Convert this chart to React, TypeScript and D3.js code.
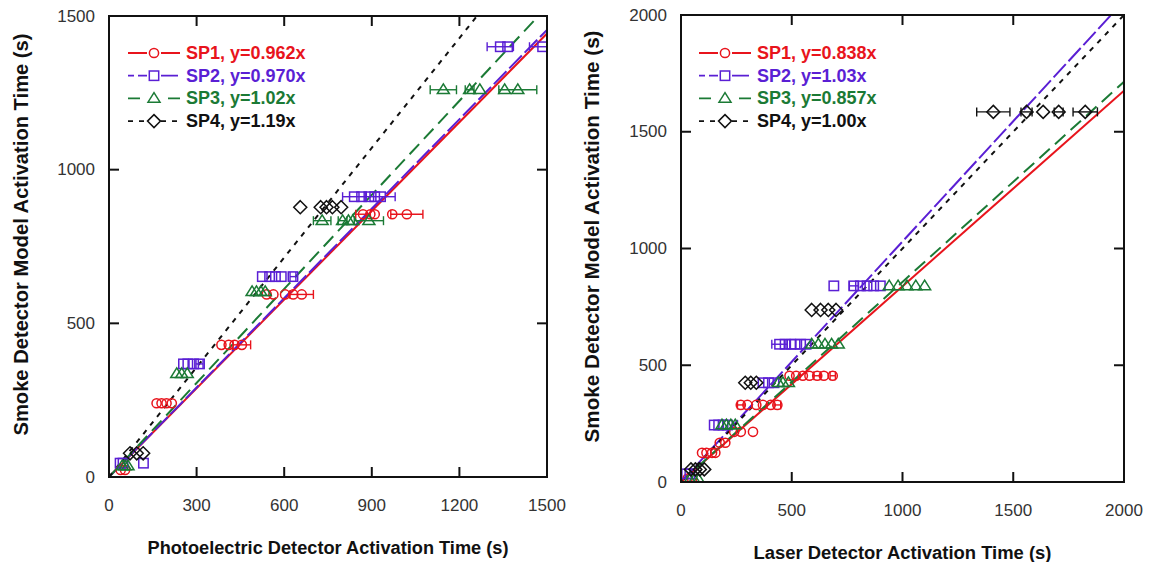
import React from 'react';
import * as d3 from 'd3';

// ---------------- data ----------------
const seriesNames = ['SP1', 'SP2', 'SP3', 'SP4'];
const seriesColors = ['#e8141c', '#5a1fd4', '#1b7a35', '#111111'];
const leftSlopes = [0.962, 0.97, 1.02, 1.19];
const leftSlopeLabels = ['0.962', '0.970', '1.02', '1.19'];
const rightSlopes = [0.838, 1.03, 0.857, 1.0];
const rightSlopeLabels = ['0.838', '1.03', '0.857', '1.00'];

const leftXTicks = [0, 300, 600, 900, 1200, 1500];
const leftYTicks = [0, 500, 1000, 1500];
const rightXTicks = [0, 500, 1000, 1500, 2000];
const rightYTicks = [0, 500, 1000, 1500, 2000];

// Left panel (photoelectric)
const lSP1X = [40, 55, 163, 180, 197, 215, 385, 410, 430, 455, 540, 563, 603, 631, 660, 870, 895, 910, 970, 1020];
const lSP1Y = [23, 23, 240, 240, 240, 240, 430, 430, 430, 430, 594, 594, 594, 594, 594, 855, 855, 855, 855, 855];
const lSP1E = [0, 0, 0, 0, 0, 0, 0, 0, 0, 30, 0, 0, 0, 0, 40, 25, 0, 0, 0, 55];

const lSP2X = [38, 48, 118, 255, 270, 290, 310, 525, 550, 570, 590, 630, 840, 865, 890, 910, 930, 1340, 1365, 1485];
const lSP2Y = [45, 45, 45, 368, 368, 368, 368, 652, 652, 652, 652, 652, 912, 912, 912, 912, 912, 1400, 1400, 1400];
const lSP2E = [0, 0, 0, 0, 0, 0, 12, 0, 0, 0, 0, 10, 40, 0, 0, 0, 50, 45, 0, 45];

const lSP3X = [45, 55, 65, 232, 249, 268, 490, 505, 520, 535, 730, 800, 820, 835, 890, 1145, 1235, 1270, 1355, 1400];
const lSP3Y = [36, 36, 36, 336, 336, 336, 603, 603, 603, 603, 834, 834, 834, 834, 834, 1260, 1260, 1260, 1260, 1260];
const lSP3E = [0, 0, 0, 0, 0, 0, 0, 0, 0, 0, 30, 15, 0, 0, 50, 45, 15, 0, 0, 65];

const lSP4X = [72, 95, 117, 655, 725, 745, 765, 795];
const lSP4Y = [77, 77, 77, 878, 878, 878, 878, 878];
const lSP4E = [0, 0, 0, 0, 0, 0, 0, 0];

// Right panel (laser)
const rSP1X = [30, 50, 95, 115, 140, 155, 175, 200, 240, 270, 325, 270, 300, 340, 370, 405, 435, 490, 520, 550, 580, 615, 645, 685];
const rSP1Y = [15, 15, 125, 125, 125, 125, 168, 168, 215, 215, 215, 330, 330, 330, 330, 330, 330, 455, 455, 455, 455, 455, 455, 455];
const rSP1E = [0, 0, 0, 0, 0, 0, 0, 0, 0, 0, 0, 15, 0, 0, 0, 0, 15, 0, 0, 0, 0, 15, 0, 12];

const rSP2X = [25, 40, 150, 170, 190, 210, 370, 395, 420, 445, 470, 495, 515, 540, 565, 690, 780, 810, 840, 870, 900];
const rSP2Y = [35, 35, 244, 244, 244, 244, 425, 425, 425, 590, 590, 590, 590, 590, 590, 840, 840, 840, 840, 840, 840];
const rSP2E = [0, 0, 0, 0, 0, 0, 0, 0, 0, 35, 0, 0, 0, 0, 0, 0, 20, 0, 0, 0, 0];

const rSP3X = [40, 60, 80, 185, 205, 225, 245, 440, 460, 485, 590, 620, 650, 680, 710, 940, 980, 1020, 1060, 1100];
const rSP3Y = [10, 10, 10, 244, 244, 244, 244, 425, 425, 425, 590, 590, 590, 590, 590, 840, 840, 840, 840, 840];
const rSP3E = [0, 0, 0, 0, 0, 0, 0, 0, 0, 0, 0, 0, 0, 0, 0, 0, 0, 0, 0, 0];

const rSP4X = [45, 65, 85, 105, 290, 315, 340, 590, 630, 665, 700, 1410, 1560, 1635, 1705, 1825];
const rSP4Y = [54, 54, 54, 54, 425, 425, 425, 737, 737, 737, 737, 1585, 1585, 1585, 1585, 1585];
const rSP4E = [0, 0, 0, 0, 0, 0, 0, 0, 0, 0, 0, 75, 25, 0, 20, 55];

// ---------------- styling / layout ----------------
const W = 1153;
const H = 562;
const dashes = [null, '18,4', '14,7', '5,6'];
const markerKinds = ['circle', 'square', 'triangle', 'diamond'];
const FONT = 'Liberation Sans, Arial, Helvetica, sans-serif';

type Pt = { x: number; y: number; e: number };

function zipPts(xs: number[], ys: number[], es: number[]): Pt[] {
  return xs.map((x, i) => ({ x, y: ys[i], e: es[i] }));
}

function Marker({ kind, cx, cy, color }: { kind: string; cx: number; cy: number; color: string }) {
  const sw = 1.5;
  if (kind === 'circle') return <circle cx={cx} cy={cy} r={4.6} fill="none" stroke={color} strokeWidth={sw} />;
  if (kind === 'square') return <rect x={cx - 4.7} y={cy - 4.7} width={9.4} height={9.4} fill="none" stroke={color} strokeWidth={sw} />;
  if (kind === 'triangle')
    return <path d={`M${cx},${cy - 5.8}L${cx + 6},${cy + 3.8}L${cx - 6},${cy + 3.8}Z`} fill="none" stroke={color} strokeWidth={sw} />;
  return <path d={`M${cx},${cy - 6.5}L${cx + 6.5},${cy}L${cx},${cy + 6.5}L${cx - 6.5},${cy}Z`} fill="none" stroke={color} strokeWidth={sw} />;
}

type PanelProps = {
  id: string;
  left: number; right: number; top: number; bottom: number;
  xMax: number; yMax: number;
  xTicks: number[]; yTicks: number[];
  xTitle: string; xTitleLen: number; yTitle: string; yTitleLen: number; yTitleX: number;
  slopes: number[]; slopeLabels: string[];
  points: Pt[][];
  legendX: number; legendY: number;
};

function Panel(p: PanelProps) {
  const x = d3.scaleLinear().domain([0, p.xMax]).range([p.left, p.right]);
  const y = d3.scaleLinear().domain([0, p.yMax]).range([p.bottom, p.top]);
  const tickLen = 10;
  const midX = (p.left + p.right) / 2;
  const midY = (p.top + p.bottom) / 2 - 12;
  return (
    <g>
      <defs>
        <clipPath id={p.id}>
          <rect x={p.left} y={p.top} width={p.right - p.left} height={p.bottom - p.top} />
        </clipPath>
      </defs>
      <g clipPath={`url(#${p.id})`}>
        {p.slopes.map((s, i) => (
          <line key={i} x1={x(0)} y1={y(0)} x2={x(p.xMax)} y2={y(s * p.xMax)}
            stroke={seriesColors[i]} strokeWidth={2}
            strokeDasharray={dashes[i] ?? undefined} />
        ))}
        {p.points.map((pts, si) => (
          <g key={si}>
            {pts.map((d, k) => (
              <g key={k}>
                {d.e > 0 && (
                  <g stroke={seriesColors[si]} strokeWidth={1.4}>
                    <line x1={x(d.x - d.e)} x2={x(d.x + d.e)} y1={y(d.y)} y2={y(d.y)} />
                    <line x1={x(d.x - d.e)} x2={x(d.x - d.e)} y1={y(d.y) - 4.5} y2={y(d.y) + 4.5} />
                    <line x1={x(d.x + d.e)} x2={x(d.x + d.e)} y1={y(d.y) - 4.5} y2={y(d.y) + 4.5} />
                  </g>
                )}
                <Marker kind={markerKinds[si]} cx={x(d.x)} cy={y(d.y)} color={seriesColors[si]} />
              </g>
            ))}
          </g>
        ))}
      </g>
      <rect x={p.left} y={p.top} width={p.right - p.left} height={p.bottom - p.top} fill="none" stroke="#111" strokeWidth={2} />
      {p.xTicks.slice(1, -1).map((t) => (
        <g key={'xt' + t} stroke="#111" strokeWidth={2}>
          <line x1={x(t)} x2={x(t)} y1={p.bottom} y2={p.bottom - tickLen} />
          <line x1={x(t)} x2={x(t)} y1={p.top} y2={p.top + tickLen} />
        </g>
      ))}
      {p.yTicks.slice(1, -1).map((t) => (
        <g key={'yt' + t} stroke="#111" strokeWidth={2}>
          <line x1={p.left} x2={p.left + tickLen} y1={y(t)} y2={y(t)} />
          <line x1={p.right} x2={p.right - tickLen} y1={y(t)} y2={y(t)} />
        </g>
      ))}
      {p.xTicks.map((t) => (
        <text key={'xl' + t} x={x(t)} y={p.bottom + 28} textAnchor="middle" dominantBaseline="central"
          fontFamily={FONT} fontSize={17} fill="#333">{t}</text>
      ))}
      {p.yTicks.map((t) => (
        <text key={'yl' + t} x={p.left - 14} y={y(t)} textAnchor="end" dominantBaseline="central"
          fontFamily={FONT} fontSize={17} fill="#333">{t}</text>
      ))}
      <text x={midX} y={p.bottom + 71} textAnchor="middle" dominantBaseline="central"
        fontFamily={FONT} fontSize={18} fontWeight="bold" fill="#111"
        textLength={p.xTitleLen} lengthAdjust="spacingAndGlyphs">{p.xTitle}</text>
      <text transform={`translate(${p.yTitleX},${midY}) rotate(-90)`} textAnchor="middle" dominantBaseline="central"
        fontFamily={FONT} fontSize={20} fontWeight="bold" fill="#111"
        textLength={p.yTitleLen} lengthAdjust="spacingAndGlyphs">{p.yTitle}</text>
      {seriesNames.map((n, i) => {
        const ly = p.legendY + i * 22.7;
        const lx1 = p.legendX;
        const lx2 = p.legendX + 52;
        const mx = p.legendX + 26;
        return (
          <g key={'lg' + n}>
            <line x1={lx1} x2={lx2} y1={ly} y2={ly} stroke={seriesColors[i]} strokeWidth={1.8}
              strokeDasharray={dashes[i] ?? undefined} strokeDashoffset={i === 1 ? 12 : i === 2 ? 2 : 0} />
            <rect x={mx - 7} y={ly - 7} width={14} height={14} fill="#fff" />
            <Marker kind={markerKinds[i]} cx={mx} cy={ly} color={seriesColors[i]} />
            <text x={lx2 + 6} y={ly} dominantBaseline="central" fontFamily={FONT} fontSize={18}
              fontWeight="bold" fill={seriesColors[i]}>{`${n}, y=${p.slopeLabels[i]}x`}</text>
          </g>
        );
      })}
    </g>
  );
}

export default function App() {
  const leftPts = [
    zipPts(lSP1X, lSP1Y, lSP1E),
    zipPts(lSP2X, lSP2Y, lSP2E),
    zipPts(lSP3X, lSP3Y, lSP3E),
    zipPts(lSP4X, lSP4Y, lSP4E),
  ];
  const rightPts = [
    zipPts(rSP1X, rSP1Y, rSP1E),
    zipPts(rSP2X, rSP2Y, rSP2E),
    zipPts(rSP3X, rSP3Y, rSP3E),
    zipPts(rSP4X, rSP4Y, rSP4E),
  ];
  return (
    <svg width={W} height={H} style={{ position: 'absolute', left: 0, top: 0, background: '#fff' }}>
      <rect x={0} y={0} width={W} height={H} fill="#fff" />
      <Panel id="clipL" left={109} right={547} top={16} bottom={477} xMax={1500} yMax={1500}
        xTicks={leftXTicks} yTicks={leftYTicks}
        xTitle="Photoelectric Detector Activation Time (s)" xTitleLen={361}
        yTitle="Smoke Detector Model Activation Time (s)" yTitleLen={402} yTitleX={21}
        slopes={leftSlopes} slopeLabels={leftSlopeLabels} points={leftPts}
        legendX={128} legendY={53} />
      <Panel id="clipR" left={681} right={1124} top={15} bottom={482} xMax={2000} yMax={2000}
        xTicks={rightXTicks} yTicks={rightYTicks}
        xTitle="Laser Detector Activation Time (s)" xTitleLen={298}
        yTitle="Smoke Detector Model Activation Time (s)" yTitleLen={412} yTitleX={592}
        slopes={rightSlopes} slopeLabels={rightSlopeLabels} points={rightPts}
        legendX={699} legendY={53} />
    </svg>
  );
}
